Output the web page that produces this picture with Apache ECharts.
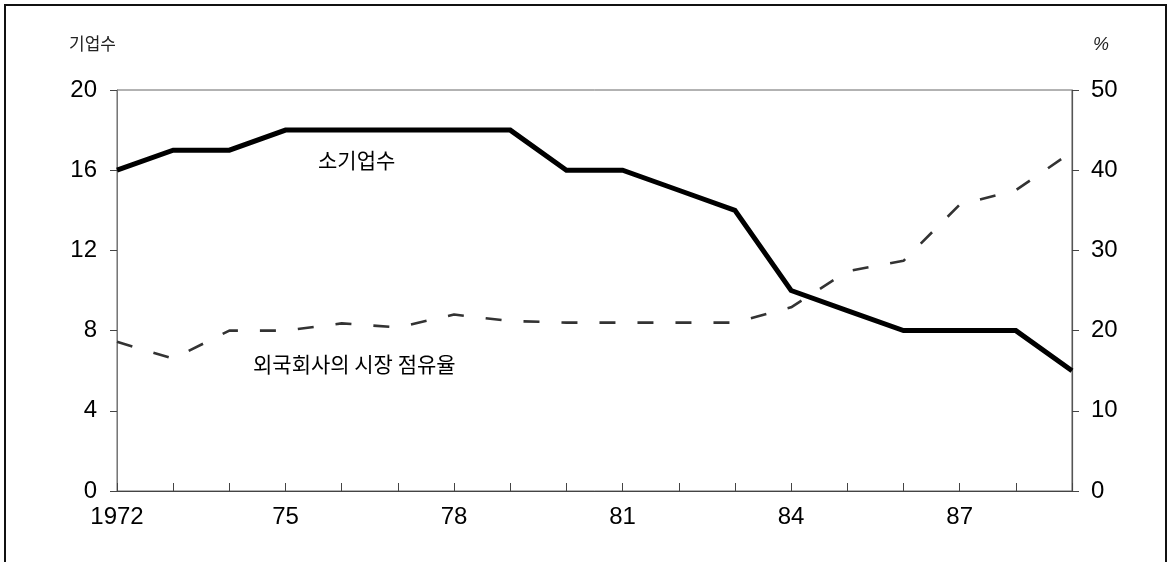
<!DOCTYPE html>
<html>
<head>
<meta charset="utf-8">
<script src="https://cdn.jsdelivr.net/npm/echarts@6/dist/echarts.min.js"></script>
<style>
html,body{margin:0;padding:0;background:#fff;}
#c{width:1171px;height:562px;}
</style>
</head>
<body>
<div id="c"></div>
<script>
// Data
const years = ['1972','1973','1974','1975','1976','1977','1978','1979','1980','1981','1982','1983','1984','1985','1986','1987','1988','1989'];
const yearLabels = ['1972','','','75','','','78','','','81','','','84','','','87','',''];
const firmCount = [16,17,17,18,18,18,18,18,16,16,15,14,10,9,8,8,8,6];
const foreignShare = [18.6,16.5,20,20,20.9,20.4,22,21.2,21,21,21,21,22.9,27.4,28.7,35.7,37.5,42.3];
const leftTicks = [0,4,8,12,16,20];
const rightTicks = [0,10,20,30,40,50];
const leftUnit = '기업수';
const rightUnit = '%';
const firmLabel = '소기업수';
const shareLabel = '외국회사의 시장 점유율';

const chart = echarts.init(document.getElementById('c'), null, {renderer:'canvas'});
const numFont = {color:'#000', fontSize:24, fontFamily:'"Liberation Sans",Arial,sans-serif'};
const krFont = '"Noto Sans CJK KR","Noto Sans",sans-serif';

chart.setOption({
  backgroundColor:'#fff',
  animation:false,
  grid:{left:117, right:99, top:90, bottom:71, show:true, borderColor:'#666', borderWidth:1, containLabel:false},
  xAxis:{
    type:'category', data:years, boundaryGap:false,
    axisLine:{lineStyle:{color:'#444', width:1.2}},
    axisTick:{inside:true, length:8, interval:0, lineStyle:{color:'#444'}},
    axisLabel:{interval:0, margin:14, formatter:(v, i)=>yearLabels[i], ...numFont},
    splitLine:{show:false}
  },
  yAxis:[
    {type:'value', min:leftTicks[0], max:leftTicks[leftTicks.length-1], interval:4,
     axisLine:{show:true, lineStyle:{color:'#777', width:1}},
     axisTick:{show:true, length:7, lineStyle:{color:'#444'}},
     axisLabel:{margin:20, ...numFont},
     splitLine:{show:false}},
    {type:'value', min:rightTicks[0], max:rightTicks[rightTicks.length-1], interval:10, position:'right',
     axisLine:{show:true, lineStyle:{color:'#555', width:1.2}},
     axisTick:{show:true, length:7, lineStyle:{color:'#444'}},
     axisLabel:{margin:19, ...numFont},
     splitLine:{show:false}}
  ],
  series:[
    {type:'line', name:firmLabel, data:firmCount, yAxisIndex:0, symbol:'none',
     lineStyle:{color:'#000', width:5, join:'miter'}, z:3},
    {type:'line', name:shareLabel, data:foreignShare, yAxisIndex:1, symbol:'none',
     lineStyle:{color:'#333', width:2.6, type:[16,22]}, z:2}
  ],
  graphic:[
    {type:'rect', shape:{x:5, y:5, width:1161, height:600}, style:{fill:'none', stroke:'#111', lineWidth:2}, silent:true},
    {type:'text', left:69, top:35, style:{text:leftUnit, fontSize:17, fontFamily:krFont, fill:'#222'}},
    {type:'text', left:1093, top:36, style:{text:rightUnit, fontSize:18, fontFamily:'"Liberation Sans",Arial,sans-serif', fontStyle:'italic', fill:'#222'}},
    {type:'text', left:318, top:150, style:{text:firmLabel, fontSize:21, fontFamily:krFont, fill:'#000'}},
    {type:'text', left:253, top:354, style:{text:shareLabel, fontSize:21, fontFamily:krFont, fill:'#000'}}
  ]
});
</script>
</body>
</html>
